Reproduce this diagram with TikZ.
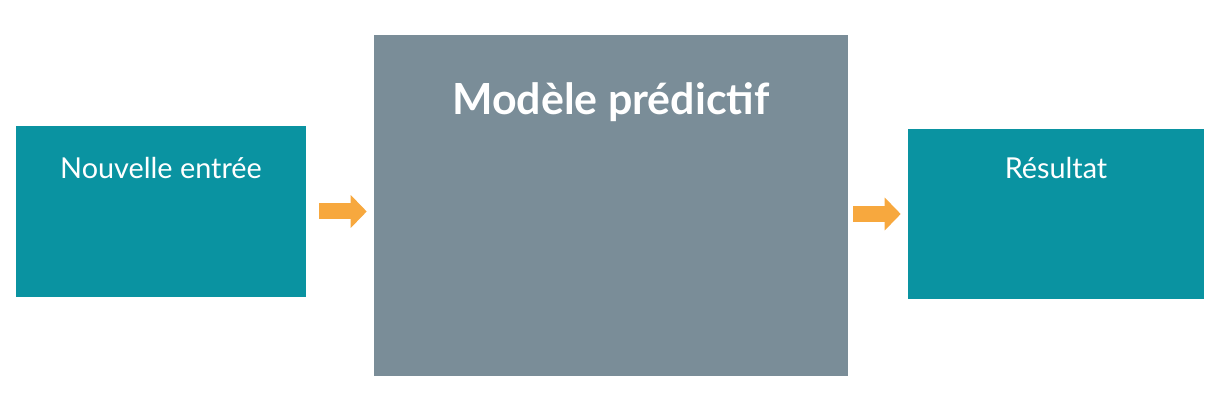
\documentclass[tikz,border=0pt]{standalone}
\usepackage[RGB]{xcolor}
\usepackage{fontspec}
\setmainfont{Lato}
\usetikzlibrary{arrows.meta}
\definecolor{inbox}{RGB}{10,147,161}
\definecolor{model}{RGB}{122,141,152}
\definecolor{flow}{RGB}{247,168,62}
\newcommand{\drawflow}{\draw[line width=0.4cm, flow, -{Triangle[length=0.4cm,width=0.8cm]}]}
\tikzset{
  block/.style={fill=#1, inner sep=0pt},
  blocktext/.style={text=white, inner sep=0pt, font=\fontsize{20.5}{24}\selectfont}
}
\begin{document}
\begin{tikzpicture}
\useasboundingbox[fill=white] (0,0) rectangle (30.475,10.275);
\node[block=inbox, minimum width=7.25cm, minimum height=4.275cm] (entree) at (4.025,4.9875) {};
\node[block=model, minimum width=11.85cm, minimum height=8.525cm] (modele) at (15.275,5.1375) {};
\node[block=inbox, minimum width=7.4cm, minimum height=4.25cm] (resultat) at (26.4,4.925) {};
\node[blocktext] (entreetext) at ([yshift=-1.05cm]entree.north) {Nouvelle entrée};
\node[blocktext, font=\fontsize{30.5}{34}\selectfont\bfseries] (modeletext) at ([yshift=-1.675cm]modele.north) {Modèle prédictif};
\node[blocktext] (resultattext) at ([yshift=-0.975cm]resultat.north) {Résultat};
\drawflow[shorten <=0.325cm, shorten >=0.175cm] (entree.east) -- (entree.east -| modele.west);
\drawflow[shorten <=0.125cm, shorten >=0.175cm] (modele.east |- resultat.west) -- (resultat.west);
\end{tikzpicture}
\end{document}
